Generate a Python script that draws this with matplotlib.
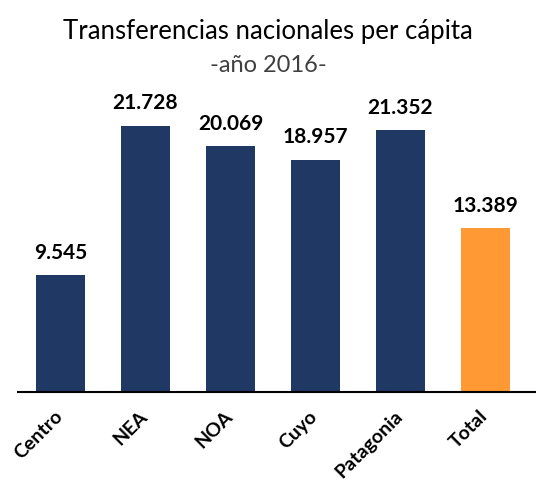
import matplotlib
matplotlib.use("Agg")
import matplotlib.pyplot as plt
import matplotlib.transforms as mtransforms

regiones = ["Centro", "NEA", "NOA", "Cuyo", "Patagonia", "Total"]
valores = [9545, 21728, 20069, 18957, 21352, 13389]
colores = ["#203864", "#203864", "#203864", "#203864", "#203864", "#FF9933"]

plt.rcParams['font.family'] = ['Lato', 'DejaVu Sans']

fig = plt.figure(figsize=(5.36, 4.86), dpi=100)
ax = fig.add_axes([18 / 536, 0.193, 518 / 536, 0.601])

x = range(len(regiones))
ax.bar(x, valores, width=0.58, color=colores, zorder=2)

for i, v in enumerate(valores):
    etiqueta = f"{v:,.0f}".replace(",", ".")
    ax.text(i, v + 1000, etiqueta, ha="center", va="bottom",
            fontsize=15, fontweight="bold", color="black")

ax.set_ylim(0, 23800)
ax.set_xlim(-0.5, 5.594)

for s in ["top", "right", "left"]:
    ax.spines[s].set_visible(False)
ax.spines["bottom"].set_linewidth(1.5)
ax.set_yticks([])
ax.set_xticks(list(x))
ax.set_xticklabels(regiones, rotation=45, ha="right", rotation_mode="anchor",
                   fontsize=14, fontweight="bold")
ax.tick_params(axis="x", length=0, pad=11)

# nudge labels a bit to the left
desplaz = mtransforms.ScaledTranslation(-7 / 100, 0, fig.dpi_scale_trans)
for lbl in ax.get_xticklabels():
    lbl.set_transform(lbl.get_transform() + desplaz)

fig.text(0.5, 0.935, "Transferencias nacionales per cápita", ha="center",
         va="center", fontsize=18.5, color="black")
fig.text(0.5, 0.866, "-año 2016-", ha="center", va="center",
         fontsize=17, color="#404040")

fig.savefig("out.png", dpi=100)
